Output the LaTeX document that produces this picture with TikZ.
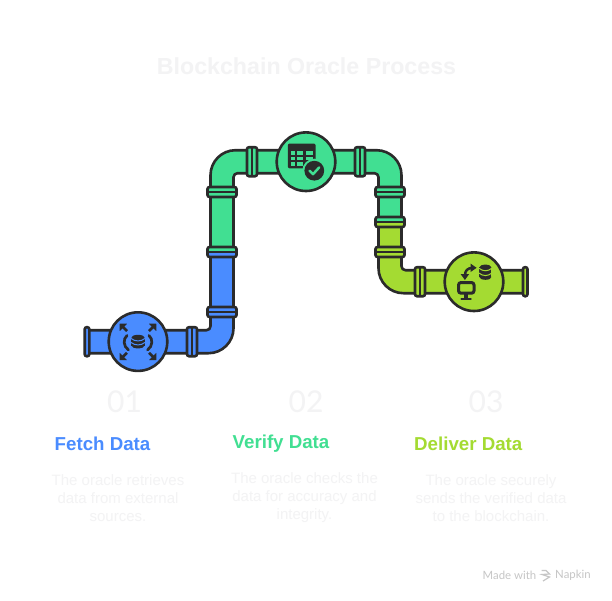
\documentclass[tikz,border=0pt]{standalone}
\usepackage{fontspec}
\setmainfont{Liberation Sans}
\newfontfamily\numfont{Lato}
\newfontfamily\markfont{Lato}
\definecolor{pipeblue}{HTML}{4A8CFF}
\definecolor{pipegreen}{HTML}{41DF92}
\definecolor{pipelime}{HTML}{A4DB32}
\definecolor{ink}{HTML}{2B2B2B}
\definecolor{paletext}{HTML}{F3F3F4}
\definecolor{marktext}{HTML}{C6C6C6}
\tikzset{
  pipe/.style={draw=ink,line width=2.6pt,line join=round},
  flange/.style={draw=ink,line width=2.6pt,rounded corners=2pt},
  divider/.style={draw=ink,line width=2.3pt},
  hub/.style={circle,draw=ink,line width=2.6pt,minimum size=58.6pt,inner sep=0pt},
  titletext/.style={font=\bfseries\fontsize{23.2}{28}\selectfont,text=paletext},
  numtext/.style={font=\numfont\fontsize{30}{36}\selectfont,text=paletext},
  headtext/.style={font=\bfseries\fontsize{18.7}{23}\selectfont,anchor=west,inner sep=0pt},
  bodytext/.style={font=\fontsize{15}{18}\selectfont,text=paletext,align=center},
  glyph/.style={draw=ink,line width=2.7pt},
  glyphfill/.style={fill=ink},
}
% vertical-pipe flange: #1 x, #2 y, #3 upper colour, #4 lower colour
\newcommand{\vflange}[4]{%
  \fill[#3] (#1-14,#2-4.5) rectangle (#1+14,#2);
  \fill[#4] (#1-14,#2) rectangle (#1+14,#2+4.5);
  \draw[flange] (#1-14.5,#2-5) rectangle (#1+14.5,#2+5);
  \draw[divider] (#1-14.5,#2) -- (#1+14.5,#2);
}
% horizontal-pipe flange
\newcommand{\hflange}[3]{%
  \draw[flange,fill=#3] (#1-5,#2-14.5) rectangle (#1+5,#2+14.5);
  \draw[divider] (#1,#2-14.5) -- (#1,#2+14.5);
}
% database glyph: #1 cx, #2 top y, #3 rx, #4 ry, #5 layer height, #6 gap colour
\newcommand{\dbglyph}[6]{%
  \fill[ink] (#1-#3,#2) rectangle (#1+#3,#2+2*#5);
  \fill[ink] (#1,#2) ellipse [x radius=#3,y radius=#4];
  \fill[ink] (#1,#2+2*#5) ellipse [x radius=#3,y radius=#4];
  \draw[#6,line width=1pt] (#1-#3-.5,#2+0.8) .. controls (#1-.4*#3,#2+#4+1.4) and (#1+.4*#3,#2+#4+1.4) .. (#1+#3+.5,#2+0.8);
  \draw[#6,line width=1pt] (#1-#3-.5,#2+#5+0.8) .. controls (#1-.4*#3,#2+#5+#4+1.4) and (#1+.4*#3,#2+#5+#4+1.4) .. (#1+#3+.5,#2+#5+0.8);
}
% corner arrow: #1,#2 tip, #3 x sign, #4 y sign
\newcommand{\cornerarrow}[4]{%
  \fill[ink,rounded corners=.5pt] (#1,#2) -- (#1+#3*7.6,#2) -- (#1,#2+#4*7.6) -- cycle;
  \draw[glyph] (#1+#3*2,#2+#4*2) -- (#1+#3*7.4,#2+#4*7.4);
}
\begin{document}
\begin{tikzpicture}[x=1pt,y=-1pt]
\useasboundingbox (0,0) rectangle (612,600);
\fill[white] (0,0) rectangle (612,600);

% blue run
\draw[pipe,fill=pipeblue] (87,330.2) -- (206.5,330.2) .. controls (208.7,330.2) and (210.5,328.4) .. (210.5,326.2) -- (210.5,252) -- (233.5,252) -- (233.5,328.2) .. controls (233.5,342) and (222.3,353.2) .. (208.5,353.2) -- (87,353.2) -- cycle;
% green run
\draw[pipe,fill=pipegreen] (210.5,252) -- (210.5,175.2) .. controls (210.5,161.4) and (221.7,150.2) .. (235.5,150.2) -- (376.5,150.2) .. controls (390.3,150.2) and (401.5,161.4) .. (401.5,175.2) -- (401.5,222) -- (378.5,222) -- (378.5,177.2) .. controls (378.5,175) and (376.7,173.2) .. (374.5,173.2) -- (237.5,173.2) .. controls (235.3,173.2) and (233.5,175) .. (233.5,177.2) -- (233.5,252) -- cycle;
% lime run
\draw[pipe,fill=pipelime] (378.5,222) -- (378.5,268.2) .. controls (378.5,282) and (389.7,293.2) .. (403.5,293.2) -- (525,293.2) -- (525,270.2) -- (405.5,270.2) .. controls (403.3,270.2) and (401.5,268.4) .. (401.5,266.2) -- (401.5,222) -- cycle;

% flanges
\draw[flange,fill=pipeblue] (84.7,327.2) rectangle (89.3,356.2);
\draw[flange,fill=pipelime] (523,267.2) rectangle (527.5,296.2);
\hflange{192}{341.7}{pipeblue}
\hflange{252}{161.7}{pipegreen}
\hflange{360}{161.7}{pipegreen}
\hflange{420}{281.7}{pipelime}
\vflange{222}{312}{pipeblue}{pipeblue}
\vflange{222}{252}{pipegreen}{pipeblue}
\vflange{222}{192}{pipegreen}{pipegreen}
\vflange{390}{192}{pipegreen}{pipegreen}
\vflange{390}{222}{pipegreen}{pipelime}
\vflange{390}{252}{pipelime}{pipelime}

% hubs
\node[hub,fill=pipeblue] (hubfetch) at (138,341.6) {};
\node[hub,fill=pipegreen] (hubverify) at (306,161.7) {};
\node[hub,fill=pipelime] (hubdeliver) at (474,281.7) {};

% fetch icon
\cornerarrow{119.6}{323.6}{1}{1}
\cornerarrow{156.4}{323.6}{-1}{1}
\cornerarrow{119.6}{360.2}{1}{-1}
\cornerarrow{156.4}{360.2}{-1}{-1}
\dbglyph{138}{337.6}{6.6}{2.8}{4}{pipeblue}
\draw[glyph,line cap=round] (127,335.5) .. controls (123,339) and (123,346) .. (128.5,350);
\draw[glyph,line cap=round] (149,335.5) .. controls (153,339) and (153,346) .. (147.5,350);

% verify icon
\fill[ink,rounded corners=2pt] (287.8,143.5) rectangle (315.6,168.4);
\fill[pipegreen] (290.6,151) rectangle (295.2,155);
\fill[pipegreen] (297.4,151) rectangle (303.4,155);
\fill[pipegreen] (305.6,151) rectangle (313,155);
\fill[pipegreen] (290.6,157) rectangle (295.2,160.4);
\fill[pipegreen] (297.4,157) rectangle (303.4,160.4);
\fill[pipegreen] (305.6,157) rectangle (313,160.4);
\fill[pipegreen] (290.6,162.4) rectangle (295.2,165.6);
\fill[pipegreen] (297.4,162.4) rectangle (303.4,165.6);
\fill[pipegreen] (305.6,162.4) rectangle (313,165.6);
\fill[pipegreen] (314.3,170.7) circle (12);
\fill[ink] (314.3,170.7) circle (9.9);
\draw[pipegreen,line width=2.5pt,line cap=round,line join=round] (309.6,170.8) -- (313,174.2) -- (319.2,167.4);

% deliver icon
\dbglyph{485.4}{267.4}{6}{2.8}{4.8}{pipelime}
\draw[draw=ink,line width=3pt,rounded corners=2.5pt] (458.5,282.5) rectangle (474,293.2);
\fill[ink] (464.4,293) rectangle (467.8,298);
\draw[ink,line width=2.2pt,line cap=round] (461.5,298.8) -- (470.7,298.8);
\draw[draw=ink,line width=2.5pt] (465,275) .. controls (465,270.5) and (468,268) .. (472,268);
\fill[ink] (470.6,263.6) -- (476.6,267.8) -- (470.6,272) -- cycle;
\fill[ink] (460.6,274) -- (469.2,274) -- (464.9,280) -- cycle;

% texts
\node[titletext] (title) at (306.5,66.5) {Blockchain Oracle Process};
\node[numtext] (numa) at (124.5,402) {01};
\node[numtext] (numb) at (306,402) {02};
\node[numtext] (numc) at (486,402) {03};
\node[headtext,text=pipeblue] (heada) at (54.5,444) {Fetch Data};
\node[headtext,text=pipegreen] (headb) at (232.5,444) {Verify Data};
\node[headtext,text=pipelime] (headc) at (414,444) {Deliver Data};
\node[bodytext] (bodya) at (118,498) {The oracle retrieves\\data from external\\sources.};
\node[bodytext] (bodyb) at (304.5,498) {The oracle checks the\\data for accuracy and\\integrity.};
\node[bodytext] (bodyc) at (491,498) {The oracle securely\\sends the verified data\\to the blockchain.};

% maker's mark
\node[font=\markfont\fontsize{11.4}{14}\selectfont,text=marktext,anchor=west,inner sep=0pt] (madewith) at (482.5,575.5) {Made with};
\node[font=\markfont\fontsize{11.4}{14}\selectfont,text=marktext,anchor=west,inner sep=0pt] (napkin) at (555,575.5) {Napkin};
\draw[marktext,line width=1.2pt] (541.5,570.5) -- (546,570.5) -- (549.5,574) -- (542,574.5) -- (549.5,577) -- (543,581);
\end{tikzpicture}
\end{document}
